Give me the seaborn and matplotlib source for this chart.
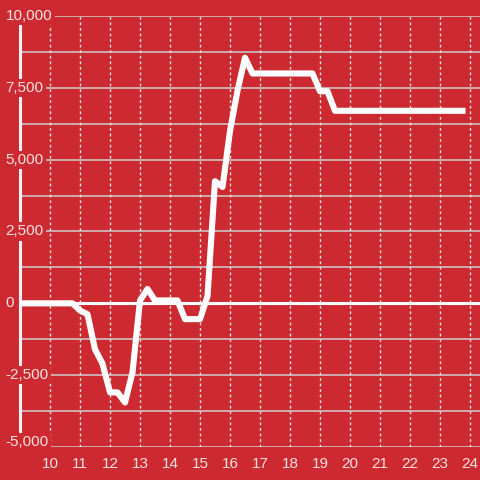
import numpy as np
import pandas as pd
import matplotlib
matplotlib.use("Agg")
import matplotlib.pyplot as plt
import matplotlib.transforms as mtransforms
import seaborn as sns

# quarter-hour readings from 9:00 to 23:45
hours = np.arange(9.0, 24.0, 0.25)
values = [
    0, 0, 0, 0, 0, 0, 0, 0,                      # 9:00 - 10:45
    -250, -380, -1600, -2100,                    # 11:00 - 11:45
    -3100, -3100, -3450, -2400,                  # 12:00 - 12:45
    100, 500, 100, 100,                          # 13:00 - 13:45
    100, 100, -550, -550,                        # 14:00 - 14:45
    -550, 250, 4250, 4050,                       # 15:00 - 15:45
    6000, 7400, 8550, 8000,                      # 16:00 - 16:45
    8000, 8000, 8000, 8000,                      # 17:00 - 17:45
    8000, 8000, 8000, 8000,                      # 18:00 - 18:45
    7380, 7380, 6700, 6700,                      # 19:00 - 19:45
    6700, 6700, 6700, 6700,                      # 20:00
    6700, 6700, 6700, 6700,                      # 21:00
    6700, 6700, 6700, 6700,                      # 22:00
    6700, 6700, 6700, 6700,                      # 23:00
]

x_ticks = list(range(10, 25))
y_ticks = [-5000, -2500, 0, 2500, 5000, 7500, 10000]
y_grid = list(range(-5000, 10001, 1250))

bg = "#cc2a30"
txt = "#f6e2e2"

sns.set_theme(style="dark", rc={"axes.facecolor": bg, "figure.facecolor": bg})
plt.rcParams["font.family"] = ["Liberation Sans", "DejaVu Sans"]

df = pd.DataFrame({"hour": hours, "value": values})

fig = plt.figure(figsize=(4.8, 4.8), dpi=100)
ax = fig.add_axes([20 / 480, 33 / 480, 460 / 480, 431 / 480])
ax.set_facecolor(bg)

for v in y_grid:
    ax.axhline(v, color="#cfcfcf", lw=1.1, zorder=1)
for x in x_ticks:
    ax.axvline(x, color="#e2e2e2", lw=1.0, ls=(0, (2, 2)), zorder=1)
ax.axhline(0, color="white", lw=2.2, zorder=2)

sns.lineplot(data=df, x="hour", y="value", ax=ax, color="white", lw=4.4,
             solid_capstyle="projecting", zorder=4)

ax.set_xlim(9, 24.333)
ax.set_ylim(-5000, 10000)
ax.set_xticks(x_ticks)
ax.set_xticklabels([str(x) for x in x_ticks])
ax.set_yticks([])
ax.set_xlabel("")
ax.set_ylabel("")
ax.tick_params(axis="x", length=0, pad=7, labelsize=11, labelcolor=txt)

for side in ["top", "right", "bottom"]:
    ax.spines[side].set_visible(False)
ax.spines["left"].set_color("#f2f2f2")
ax.spines["left"].set_linewidth(2.2)

trans = mtransforms.blended_transform_factory(ax.transAxes, ax.transData)
for v in y_ticks:
    yy = v + 170 if v == -5000 else v
    ax.text(-0.031, yy, f"{v:,}", transform=trans, ha="left", va="center",
            fontsize=11, color=txt, clip_on=False, zorder=6,
            bbox=dict(facecolor=bg, edgecolor="none", pad=1.5))

fig.savefig("out.png", dpi=100, facecolor=bg)
